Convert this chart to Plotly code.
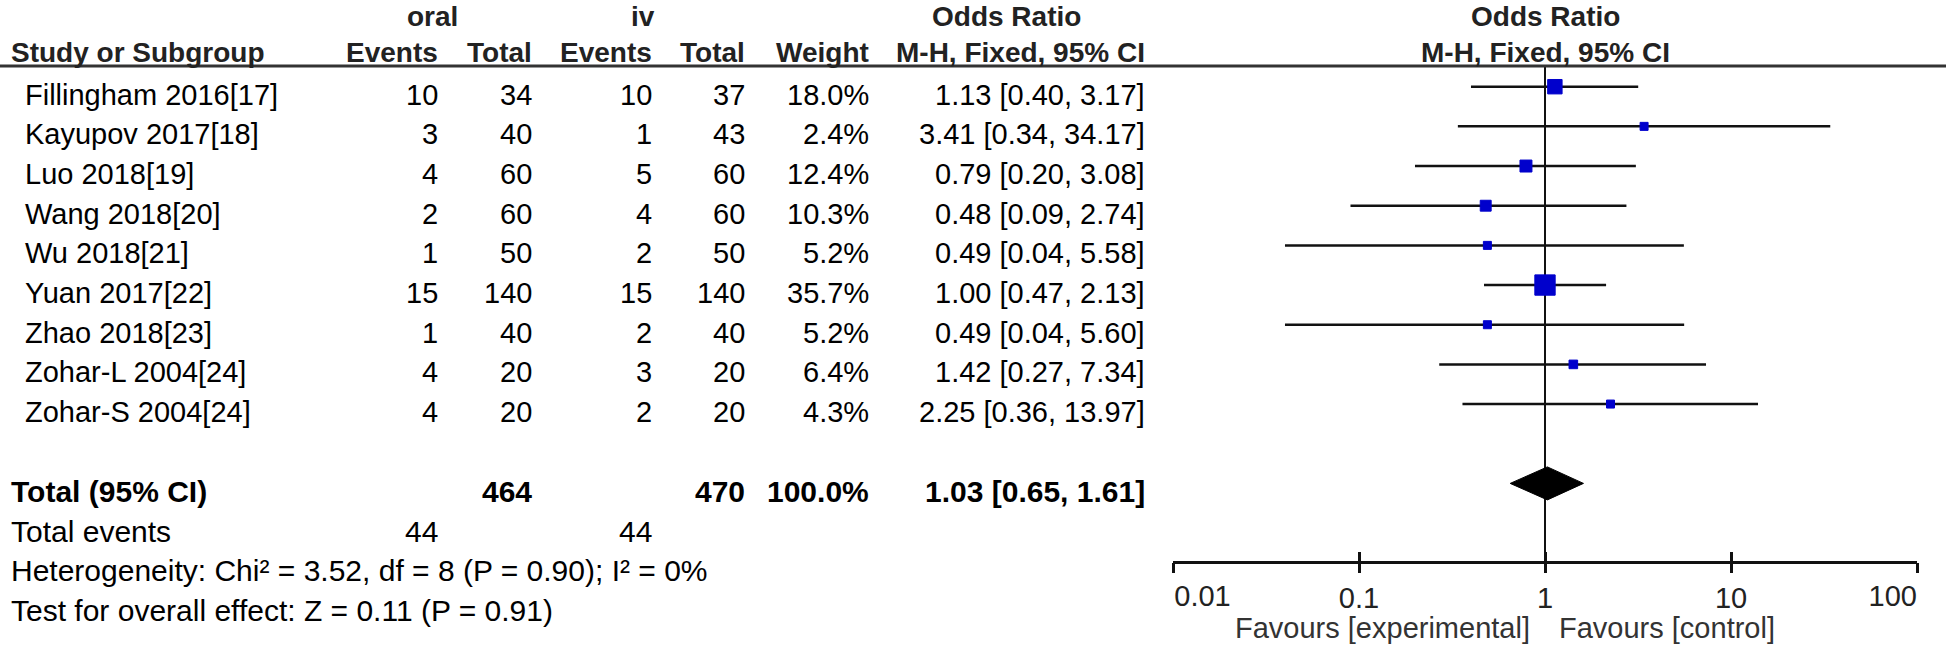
import math
import plotly.graph_objects as go

# ---------------- data ----------------
studies = ["Fillingham 2016[17]", "Kayupov 2017[18]", "Luo 2018[19]", "Wang 2018[20]",
           "Wu 2018[21]", "Yuan 2017[22]", "Zhao 2018[23]", "Zohar-L 2004[24]", "Zohar-S 2004[24]"]
oral_events = [10, 3, 4, 2, 1, 15, 1, 4, 4]
oral_total = [34, 40, 60, 60, 50, 140, 40, 20, 20]
iv_events = [10, 1, 5, 4, 2, 15, 2, 3, 2]
iv_total = [37, 43, 60, 60, 50, 140, 40, 20, 20]
weights = [18.0, 2.4, 12.4, 10.3, 5.2, 35.7, 5.2, 6.4, 4.3]
odds_ratio = [1.13, 3.41, 0.79, 0.48, 0.49, 1.00, 0.49, 1.42, 2.25]
ci_low = [0.40, 0.34, 0.20, 0.09, 0.04, 0.47, 0.04, 0.27, 0.36]
ci_high = [3.17, 34.17, 3.08, 2.74, 5.58, 2.13, 5.60, 7.34, 13.97]

total_oral = 464
total_iv = 470
total_weight = 100.0
pooled_or = 1.03
pooled_low = 0.65
pooled_high = 1.61
events_oral = 44
events_iv = 44
heterogeneity_text = "Heterogeneity: Chi² = 3.52, df = 8 (P = 0.90); I² = 0%"
overall_text = "Test for overall effect: Z = 0.11 (P = 0.91)"

tick_vals = [0.01, 0.1, 1, 10, 100]
tick_text = ["0.01", "0.1", "1", "10", "100"]
null_value = 1
favours_left = "Favours [experimental]"
favours_right = "Favours [control]"

# ---------------- layout constants ----------------
W, H = 1946, 645
ROW0_PX = 86.7
ROW_H = 39.67
TEXT_DY = 8
HEADER_LINE_PX = 66
AXIS_PX = 561.7
AX_LEFT_PX, AX_RIGHT_PX = 1173, 1917
FONT = "Liberation Sans, Arial, sans-serif"
BODY = 29
FOOT = 30
HEAD = 28
TOT = 30
BLUE = "#0000CC"

TOTAL_ROW = len(studies) + 1
EVENTS_ROW = TOTAL_ROW + 1
HET_ROW = TOTAL_ROW + 2
TEST_ROW = TOTAL_ROW + 3


def row_px(i):
    return ROW0_PX + ROW_H * i


def px_to_row(py):
    return (py - ROW0_PX) / ROW_H


y_top = px_to_row(0)
y_bottom = px_to_row(H)

annotations = []


def txt(x_px, py, s, anchor="right", bold=False, size=BODY, color="#000000"):
    annotations.append(dict(
        xref="paper", yref="paper", x=x_px / W, y=1 - py / H,
        text=f"<b>{s}</b>" if bold else s, showarrow=False,
        xanchor=anchor, yanchor="middle", borderpad=0,
        font=dict(family=FONT, size=size, color=color)))


# column right edges (px)
C_OE, C_OT, C_IE, C_IT, C_W, C_OR = 439, 533, 653, 746, 870, 1146
LEFT_NAME = 24
LEFT_MARGIN = 10
HC = "#222"

# headers
txt(432, 17, "oral", "center", True, HEAD, HC)
txt(643, 17, "iv", "center", True, HEAD, HC)
txt(1007, 17, "Odds Ratio", "center", True, HEAD, HC)
txt(1545, 17, "Odds Ratio", "center", True, HEAD, HC)
hy = 52
txt(LEFT_MARGIN, hy, "Study or Subgroup", "left", True, HEAD, HC)
txt(C_OE, hy, "Events", "right", True, HEAD, HC)
txt(C_OT, hy, "Total", "right", True, HEAD, HC)
txt(C_IE, hy, "Events", "right", True, HEAD, HC)
txt(C_IT, hy, "Total", "right", True, HEAD, HC)
txt(C_W, hy, "Weight", "right", True, HEAD, HC)
txt(C_OR, hy, "M-H, Fixed, 95% CI", "right", True, HEAD, HC)
txt(1545, hy, "M-H, Fixed, 95% CI", "center", True, HEAD, HC)

# study rows
for i, name in enumerate(studies):
    py = row_px(i) + TEXT_DY
    txt(LEFT_NAME, py, name, "left")
    txt(C_OE, py, str(oral_events[i]))
    txt(C_OT, py, str(oral_total[i]))
    txt(C_IE, py, str(iv_events[i]))
    txt(C_IT, py, str(iv_total[i]))
    txt(C_W, py, f"{weights[i]:.1f}%")
    txt(C_OR, py, f"{odds_ratio[i]:.2f} [{ci_low[i]:.2f}, {ci_high[i]:.2f}]")

# total row
py = row_px(TOTAL_ROW) + TEXT_DY
txt(LEFT_MARGIN, py, "Total (95% CI)", "left", True, TOT)
txt(C_OT, py, str(total_oral), "right", True, TOT)
txt(C_IT, py, str(total_iv), "right", True, TOT)
txt(C_W, py, f"{total_weight:.1f}%", "right", True, TOT)
txt(C_OR, py, f"{pooled_or:.2f} [{pooled_low:.2f}, {pooled_high:.2f}]", "right", True, TOT)

py = row_px(EVENTS_ROW) + TEXT_DY
txt(LEFT_MARGIN, py, "Total events", "left", False, FOOT)
txt(C_OE, py, str(events_oral), "right", False, FOOT)
txt(C_IE, py, str(events_iv), "right", False, FOOT)
txt(LEFT_MARGIN, row_px(HET_ROW) + TEXT_DY, heterogeneity_text, "left", False, FOOT)
txt(LEFT_MARGIN, row_px(TEST_ROW) + TEXT_DY, overall_text, "left", False, FOOT)

# favours labels
txt(1531, 628, favours_left, "right", False, BODY, "#333")
txt(1558, 628, favours_right, "left", False, BODY, "#333")

fig = go.Figure()

# null line
fig.add_trace(go.Scatter(
    x=[null_value, null_value], y=[px_to_row(HEADER_LINE_PX), px_to_row(AXIS_PX)],
    mode="lines", line=dict(color="#111", width=2), hoverinfo="skip", showlegend=False))

# study estimates with CI
rows = list(range(len(studies)))
sizes = [max(8, 3.4 * math.sqrt(w)) for w in weights]
fig.add_trace(go.Scatter(
    x=odds_ratio, y=rows, mode="markers",
    marker=dict(symbol="square", color=BLUE, size=sizes, opacity=1,
                line=dict(width=1, color=BLUE)),
    error_x=dict(type="data", symmetric=False,
                 array=[h - o for h, o in zip(ci_high, odds_ratio)],
                 arrayminus=[o - l for o, l in zip(odds_ratio, ci_low)],
                 color="#111", thickness=2.5, width=0),
    showlegend=False))

# pooled diamond
half_h = 16.5 / ROW_H
fig.add_trace(go.Scatter(
    x=[pooled_low, pooled_or, pooled_high, pooled_or, pooled_low],
    y=[TOTAL_ROW, TOTAL_ROW - half_h, TOTAL_ROW, TOTAL_ROW + half_h, TOTAL_ROW],
    mode="lines", fill="toself", fillcolor="#000", line=dict(color="#000", width=1),
    hoverinfo="skip", showlegend=False))

# dummy traces to keep overlay axes alive
fig.add_trace(go.Scatter(x=tick_vals, y=[None] * len(tick_vals), xaxis="x2", showlegend=False, hoverinfo="skip"))
fig.add_trace(go.Scatter(x=tick_vals, y=[None] * len(tick_vals), xaxis="x3", showlegend=False, hoverinfo="skip"))

axis_pos = 1 - AXIS_PX / H
dom = [AX_LEFT_PX / W, AX_RIGHT_PX / W]
rng = [math.log10(tick_vals[0]), math.log10(tick_vals[-1])]
tick_font = dict(family=FONT, size=BODY, color="#222")

fig.update_layout(
    width=W, height=H, autosize=False,
    margin=dict(l=0, r=0, t=0, b=0),
    paper_bgcolor="white", plot_bgcolor="white",
    xaxis=dict(type="log", range=rng, domain=dom, anchor="free", position=axis_pos,
               showgrid=False, zeroline=False, showline=True, linecolor="#111", linewidth=2.5,
               ticks="outside", ticklen=10, tickwidth=2.5, tickcolor="#111",
               tickvals=tick_vals, ticktext=[""] + tick_text[1:-1] + [""],
               tickfont=tick_font, ticklabelstandoff=0),
    xaxis2=dict(type="log", range=rng, domain=dom, anchor="free", position=axis_pos,
                overlaying="x", showgrid=False, zeroline=False, showline=False,
                ticks="inside", ticklen=10, tickwidth=2.5, tickcolor="#111",
                tickvals=tick_vals, ticktext=[tick_text[0]] + [""] * (len(tick_vals) - 1),
                ticklabelposition="outside right", tickfont=tick_font, ticklabelstandoff=14),
    xaxis3=dict(type="log", range=rng, domain=dom, anchor="free", position=axis_pos,
                overlaying="x", showgrid=False, zeroline=False, showline=False,
                ticks="", tickvals=[tick_vals[-1]], ticktext=[tick_text[-1]],
                ticklabelposition="outside left", tickfont=tick_font, ticklabelstandoff=14),
    yaxis=dict(range=[y_bottom, y_top], domain=[0, 1], visible=False, showgrid=False, zeroline=False),
    shapes=[dict(type="line", xref="paper", yref="paper", x0=0, x1=1,
                 y0=1 - HEADER_LINE_PX / H, y1=1 - HEADER_LINE_PX / H,
                 line=dict(color="#333", width=3))],
    annotations=annotations,
    showlegend=False,
)

fig.write_html("out.html", config={"displayModeBar": False},
               post_script="document.body.style.margin='0';document.body.style.overflow='hidden';")
